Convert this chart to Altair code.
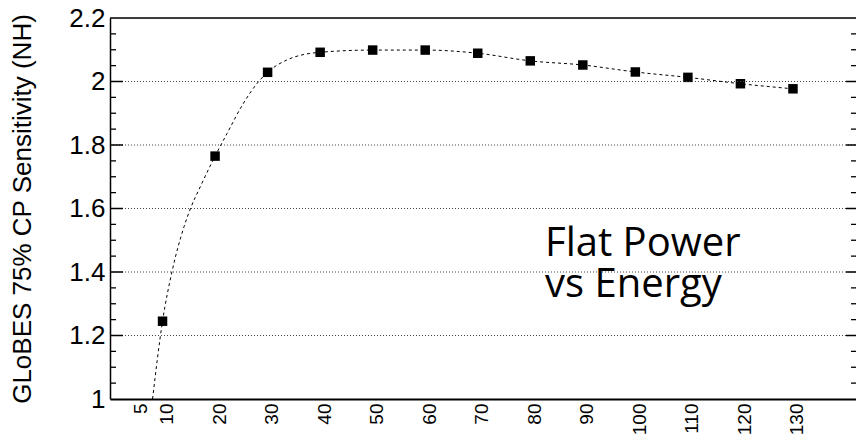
import altair as alt
import pandas as pd

# Data
energy = [10, 20, 30, 40, 50, 60, 70, 80, 90, 100, 110, 120, 130]
sensitivity = [1.245, 1.765, 2.029, 2.092, 2.099, 2.099, 2.089, 2.065, 2.052, 2.030, 2.013, 1.993, 1.977]

# dashed smooth curve
curve_x = [8.1, 10, 11.8, 14.1, 15.2, 17.2, 20, 22.3, 25.2, 28.3, 30, 33.7, 40, 50, 60, 70, 80, 90, 100, 110, 120, 130]
curve_y = [1.0, 1.245, 1.401, 1.543, 1.595, 1.669, 1.765, 1.837, 1.926, 2.0, 2.029, 2.068, 2.092, 2.099, 2.099, 2.089, 2.065, 2.052, 2.030, 2.013, 1.993, 1.977]

x_ticks = [5, 10, 20, 30, 40, 50, 60, 70, 80, 90, 100, 110, 120, 130]
y_ticks = [1.0, 1.2, 1.4, 1.6, 1.8, 2.0, 2.2]
grid_y = [1.2, 1.4, 1.6, 1.8, 2.0]
minor_y = [1.05, 1.1, 1.15, 1.25, 1.3, 1.35, 1.45, 1.5, 1.55, 1.65, 1.7, 1.75,
           1.85, 1.9, 1.95, 2.05, 2.1, 2.15]
top_y = [2.2]

W, H = 746, 381
XD = [0, 142]
YD = [1.0, 2.2]

pts = pd.DataFrame({"E": energy, "S": sensitivity})
crv = pd.DataFrame({"E": curve_x, "S": curve_y, "o": list(range(len(curve_x)))})
grid = pd.DataFrame({"G": grid_y})
minor = pd.DataFrame({"M": minor_y})
top = pd.DataFrame({"T": top_y})

xs = alt.Scale(domain=XD, nice=False, zero=False)
ys = alt.Scale(domain=YD, nice=False, zero=False)

FONT = "Liberation Sans"

base_x = alt.X("E:Q", scale=xs, title=None,
               axis=alt.Axis(values=x_ticks, labelAngle=270, ticks=False, grid=False,
                             labelFontSize=19, labelFont=FONT, labelColor="black",
                             labelPadding=4, labelOffset=4, domainColor="black",
                             domainWidth=2, labelOverlap=False, labelFlush=False))
base_y = alt.Y("S:Q", scale=ys,
               title="GLoBES 75% CP Sensitivity (NH)",
               axis=alt.Axis(values=y_ticks, ticks=False, grid=False, format="~g",
                             labelFontSize=26, labelFont=FONT, labelColor="black",
                             labelPadding=5, domainColor="black", domainWidth=1.5,
                             titleFont=FONT, titleFontSize=26, titleFontWeight="normal",
                             titleColor="black", titleAngle=270, titleAlign="center",
                             titleBaseline="alphabetic", titleX=-80, titleY=H / 2,
                             labelFlush=False, labelOverlap=False))

gridlines = alt.Chart(grid).mark_rule(color="#444", strokeDash=[1, 2], strokeWidth=1).encode(
    y=alt.Y("G:Q", scale=ys), x=alt.value(0), x2=alt.value(W))

left_major = alt.Chart(grid).mark_rule(color="black", strokeWidth=1.5).encode(
    y=alt.Y("G:Q", scale=ys), x=alt.value(0), x2=alt.value(13))
left_minor = alt.Chart(minor).mark_rule(color="black", strokeWidth=1.3).encode(
    y=alt.Y("M:Q", scale=ys), x=alt.value(0), x2=alt.value(6))
right_major = alt.Chart(grid).mark_rule(color="black", strokeWidth=1.5).encode(
    y=alt.Y("G:Q", scale=ys), x=alt.value(W - 10), x2=alt.value(W))
right_minor = alt.Chart(minor).mark_rule(color="black", strokeWidth=1.3).encode(
    y=alt.Y("M:Q", scale=ys), x=alt.value(W - 5), x2=alt.value(W))
top_border = alt.Chart(top).mark_rule(color="black", strokeWidth=1.5).encode(
    y=alt.Y("T:Q", scale=ys), x=alt.value(0), x2=alt.value(W))

curve = alt.Chart(crv).mark_line(color="black", strokeDash=[3, 3], strokeWidth=1,
                                 interpolate="monotone", clip=True).encode(
    x=alt.X("E:Q", scale=xs), y=alt.Y("S:Q", scale=ys), order="o:Q")

points = alt.Chart(pts).mark_point(shape="square", filled=True, color="black",
                                   size=90, opacity=1).encode(x=base_x, y=base_y)

label = alt.Chart(pd.DataFrame({"t": ["Flat Power\nvs Energy"]})).mark_text(
    font="Open Sans", fontSize=40, align="left", baseline="alphabetic",
    lineBreak="\n", lineHeight=41, color="black").encode(
    text="t:N", x=alt.value(435), y=alt.value(238))

chart = alt.layer(points, gridlines, curve, left_major, left_minor, right_major, right_minor,
                  top_border, label).properties(
    width=W, height=H,
    autosize=alt.AutoSizeParams(type="none"),
    padding={"left": 110, "top": 18, "right": 0, "bottom": 37},
).configure_view(strokeWidth=0).configure(background="white")

chart.save("out.html", embed_options={"renderer": "svg", "actions": False})
